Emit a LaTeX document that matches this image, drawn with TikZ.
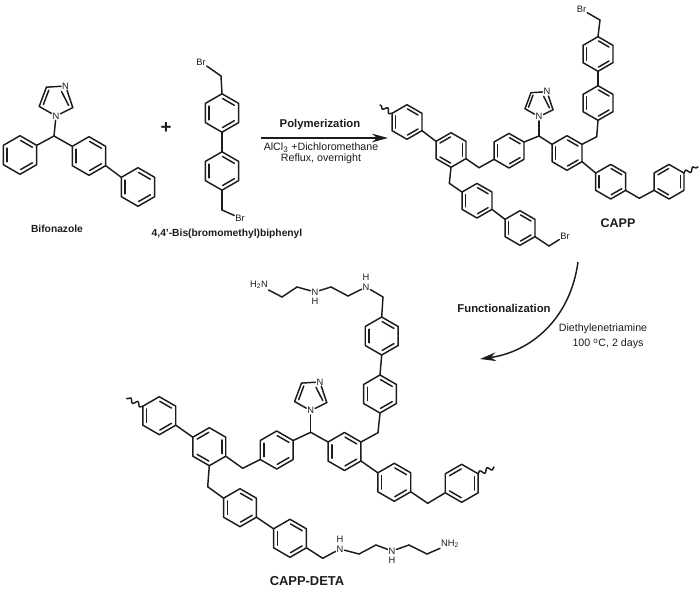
\documentclass[tikz,border=0pt]{standalone}
\usepackage{fontspec}
\setmainfont{Liberation Sans}
\usepackage{tikz}
\usetikzlibrary{positioning,calc,arrows.meta,decorations.pathmorphing}

\definecolor{inkc}{HTML}{1C1C1C}
\tikzset{
    bond/.style={draw=inkc,line width=1.1pt,line join=round,line cap=round},
    wave/.style={bond,decorate,decoration={snake,amplitude=1.6pt,segment length=6pt}},
    react/.style={draw=inkc,line width=1.1pt,-{Stealth[length=12pt,width=6.5pt]}},
    atom/.style={inner sep=0.6pt,text=inkc,font=\fontsize{7}{8}\selectfont},
    cmpd/.style={inner sep=0pt,text=inkc,font=\fontsize{7.7}{9}\selectfont\bfseries},
    step name/.style={inner sep=0pt,text=inkc,font=\fontsize{8.5}{10}\selectfont\bfseries},
    cond/.style={inner sep=0pt,text=inkc,font=\fontsize{8}{9}\selectfont},
    pics/ring/.style 2 args={code={
        \foreach \k in {1,...,6} \coordinate (-\k) at ({-150+60*\k}:#1);
        \draw[bond] (-1)--(-2)--(-3)--(-4)--(-5)--(-6)--cycle;
        \foreach \a in {0,120,240}
            \draw[bond] ({#2-90+\a+2}:{.757*#1}) -- ({#2-90+\a+58}:{.757*#1});
    }},
    pics/imid/.style={code={
        \node[atom] (-n1) at (0,0) {N};
        \node[atom] (-n3) at (8,-25) {N};
        \coordinate (-c5) at (-14,-8);
        \coordinate (-c4) at (-8,-24);
        \coordinate (-c2) at (14,-7);
        \coordinate (-mid) at (0,-14);
        \path[bond] (-n1) edge (-c5) (-c5) edge (-c4) (-c4) edge (-n3)
            (-n3) edge (-c2) (-c2) edge (-n1);
        \draw[bond] ($(-c5)!.25!(-mid)$) -- ($(-c4)!.25!(-mid)$);
        \draw[bond] ($(-n3)!.42!(-mid)$) -- ($(-c2)!.25!(-mid)$);
    }},
}

\begin{document}
\begin{tikzpicture}[x=0.75pt,y=-0.75pt]
    \useasboundingbox (0,0) rectangle (700,592);
    % bifonazole
    \pic (bL) at (20,155) {ring={19.3}{0}};
    \pic (bM) at (89,156) {ring={19.3}{0}};
    \pic (bR) at (138,187) {ring={19.3}{0}};
    \pic[scale=1.2] (bIm) at (56,116) {imid};
    \coordinate (bCH) at (54,136);
    \path[bond]
        (bIm-n1) edge (bCH)
        (bCH) edge (bL-2)
              edge (bM-6)
        (bM-3) edge (bR-6);
    \node[cmpd] (bName) at (57,229) {Bifonazole};
    \node[font=\fontsize{14}{14}\selectfont\bfseries,inner sep=0pt,text=inkc] (plus) at (166,128) {+};

    % dibromide
    \pic (rT) at (222,113) {ring={19.2}{0}};
    \pic (rB) at (222,171) {ring={19.2}{0}};
    \node[atom] (rBr1) at (201,62) {Br};
    \node[atom] (rBr2) at (240,218) {Br};
    \coordinate (rC1) at (221,76);
    \coordinate (rC2) at (222,210);
    \path[bond]
        (rBr1) edge (rC1)
        (rC1) edge (rT-1)
        (rT-4) edge (rB-1)
        (rB-4) edge (rC2)
        (rC2) edge (rBr2);
    \node[cmpd] (rName) at (227,234) {4,4'-Bis(bromomethyl)biphenyl};

    % first arrow
    \coordinate (a0) at (261,138);
    \coordinate (a1) at (388,138);
    \draw[react] (a0) -- (a1);
    \node[step name] (polym) at (320,125) {Polymerization};
    \node[cond] (solv) at (321,148) {AlCl\textsubscript{3} +Dichloromethane};
    \node[cond] (reflux) at (321,159) {Reflux, overnight};

    % CAPP
    \pic (pA) at (407,122) {ring={17.3}{0}};
    \pic (pB) at (451,150) {ring={17.3}{60}};
    \pic (pC) at (509,150.7) {ring={17.3}{0}};
    \pic (pD) at (567,153) {ring={17.3}{0}};
    \pic (pE) at (598,103) {ring={17.3}{0}};
    \pic (pF) at (598,54) {ring={17.3}{0}};
    \pic (pG) at (610.7,181.7) {ring={17.3}{0}};
    \pic (pH) at (669,181.7) {ring={17.3}{60}};
    \pic (pI) at (477,200.7) {ring={17.3}{0}};
    \pic (pJ) at (520,228) {ring={17.3}{0}};
    \pic (pIm) at (539,116.7) {imid};
    \coordinate (pCH) at (539,136);
    \coordinate (pC1) at (479,167.7);
    \coordinate (pC2) at (596.7,136.7);
    \coordinate (pC3) at (600,20);
    \coordinate (pC4) at (639.3,198.3);
    \coordinate (pC5) at (449.3,183.3);
    \coordinate (pC6) at (549,246);
    \coordinate (pW1) at (380,105);
    \coordinate (pW2) at (698,167);
    \node[atom] (pBr1) at (581.5,9.5) {Br};
    \node[atom] (pBr2) at (565,236) {Br};
    \path[bond]
        (pA-3) edge (pB-6)
        (pB-3) edge (pC1)
        (pC1) edge (pC-5)
        (pC-2) edge (pCH)
        (pIm-n1) edge (pCH)
        (pCH) edge (pD-6)
        (pD-2) edge (pC2)
        (pC2) edge (pE-4)
        (pE-1) edge (pF-4)
        (pF-1) edge (pC3)
        (pC3) edge (pBr1)
        (pD-3) edge (pG-6)
        (pG-3) edge (pC4)
        (pC4) edge (pH-5)
        (pB-4) edge (pC5)
        (pC5) edge (pI-6)
        (pI-3) edge (pJ-6)
        (pJ-3) edge (pC6)
        (pC6) edge (pBr2);
    \draw[wave] (pA-6) -- (pW1);
    \draw[wave] (pH-2) -- (pW2);
    \node[cmpd,font=\fontsize{9.4}{11}\selectfont\bfseries] (pName) at (618,223) {CAPP};

    % second arrow
    \coordinate (b0) at (578,262);
    \coordinate (b1) at (480,359);
    \draw[react] (b0) .. controls (570,320) and (530,352) .. (b1);
    \node[step name] (funct) at (504,308) {Functionalization};
    \node[cond] (deta) at (603,329) {Diethylenetriamine};
    \node[cond] (temp) at (608,344) {100 \textsuperscript{o}C, 2 days};

    % CAPP-DETA
    \pic (dA) at (159.3,415.7) {ring={19}{0}};
    \pic (dB) at (209.3,446.7) {ring={19}{60}};
    \pic (dC) at (276.7,450) {ring={19}{0}};
    \pic (dD) at (344.5,451.5) {ring={19}{0}};
    \pic (dP) at (381.7,336) {ring={19}{0}};
    \pic (dQ) at (380,394) {ring={19}{0}};
    \pic (dG) at (394.3,482.3) {ring={19}{0}};
    \pic (dH) at (461.7,483.3) {ring={19}{60}};
    \pic (dI) at (240,507.7) {ring={19}{0}};
    \pic (dJ) at (290,538.3) {ring={19}{0}};
    \pic[scale=1.15] (dIm) at (310.7,410.7) {imid};
    \coordinate (dCH) at (310.7,432.3);
    \coordinate (dC1) at (242.7,468.3);
    \coordinate (dC2) at (378,432.7);
    \coordinate (dC3) at (427.7,503.3);
    \coordinate (dC4) at (207.7,486.7);
    \coordinate (dC5) at (322.7,558.3);
    \coordinate (dW1) at (126.7,398.3);
    \coordinate (dW2) at (494,467);
    \path[bond]
        (dA-3) edge (dB-6)
        (dB-3) edge (dC1)
        (dC1) edge (dC-5)
        (dC-2) edge (dCH)
        (dIm-n1) edge (dCH)
        (dCH) edge (dD-6)
        (dD-2) edge (dC2)
        (dC2) edge (dQ-4)
        (dQ-1) edge (dP-4)
        (dD-3) edge (dG-6)
        (dG-3) edge (dC3)
        (dC3) edge (dH-5)
        (dB-4) edge (dC4)
        (dC4) edge (dI-6)
        (dI-3) edge (dJ-6);
    \draw[wave] (dA-6) -- (dW1);
    \draw[wave] (dH-2) -- (dW2);

    % upper amine arm
    \node[atom] (uN0) at (259,285) {H\textsubscript{2}N};
    \node[atom] (uN1) at (315,292) {N};
    \node[atom,below=0.8pt of uN1] (uH1) {H};
    \node[atom] (uN2) at (366,287) {N};
    \node[atom,above=0.8pt of uN2] (uH2) {H};
    \coordinate (u1) at (282,297);
    \coordinate (u2) at (297,287);
    \coordinate (u3) at (331,287);
    \coordinate (u4) at (348,296);
    \coordinate (u5) at (383,297);
    \path[bond]
        (uN0) edge (u1)
        (u1) edge (u2)
        (u2) edge (uN1)
        (uN1) edge (u3)
        (u3) edge (u4)
        (u4) edge (uN2)
        (uN2) edge (u5)
        (u5) edge (dP-1);

    % lower amine arm
    \node[atom] (lN1) at (340,549) {N};
    \node[atom,above=0.8pt of lN1] (lH1) {H};
    \node[atom] (lN2) at (392,551) {N};
    \node[atom,below=0.8pt of lN2] (lH2) {H};
    \node[atom,anchor=west] (lN3) at (440,544) {NH\textsubscript{2}};
    \coordinate (l1) at (359,554);
    \coordinate (l2) at (376,545);
    \coordinate (l3) at (409,545);
    \coordinate (l4) at (427,554);
    \path[bond]
        (dJ-3) edge (dC5)
        (dC5) edge (lN1)
        (lN1) edge (l1)
        (l1) edge (l2)
        (l2) edge (lN2)
        (lN2) edge (l3)
        (l3) edge (l4)
        (l4) edge (lN3);
    \node[cmpd,font=\fontsize{9.7}{11}\selectfont\bfseries] (dName) at (307,581) {CAPP-DETA};
\end{tikzpicture}
\end{document}
